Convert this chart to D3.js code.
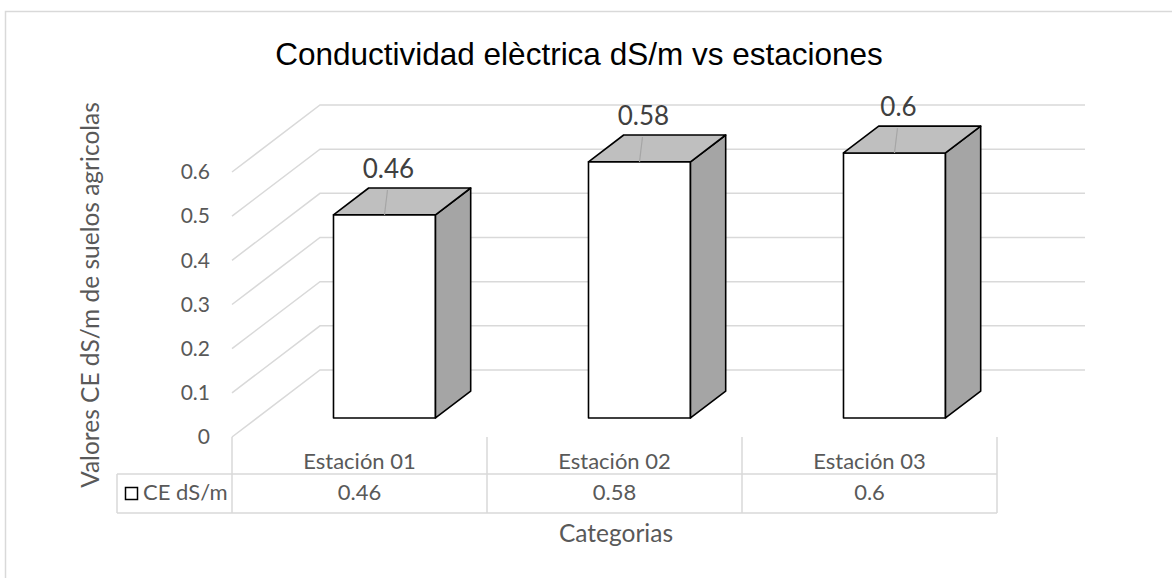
<!DOCTYPE html>
<html>
<head>
<meta charset="utf-8">
<script src="https://cdn.jsdelivr.net/npm/d3@7"></script>
<style>
  body { margin: 0; background: #fff; }
  svg { display: block; }
</style>
</head>
<body>
<svg></svg>
<script>
// chart data
let categories = ['Estación 01', 'Estación 02', 'Estación 03']
let values = [0.46, 0.58, 0.6]
let valueLabels = ['0.46', '0.58', '0.6']
let yTicks = [0, 0.1, 0.2, 0.3, 0.4, 0.5, 0.6]
let yTickLabels = ['0', '0.1', '0.2', '0.3', '0.4', '0.5', '0.6']
let seriesName = 'CE dS/m'

let width = 1172
let height = 578

// plot box (front plane) and depth vector for the fake 3d
let plotLeft = 232
let plotRight = 997
let plotBottom = 437
let plotTop = 172
let depthX = 88
let depthY = -67
let barZ0 = 0.284
let barZ1 = 0.684

let gridColor = '#d9d9d9'
let textColor = '#595959'
let bodyFont = 'Lato, "Open Sans", sans-serif'

let svg = d3.select('svg')
  .attr('width', width)
  .attr('height', height)

let xScale = d3.scaleBand()
  .domain(categories)
  .range([plotLeft, plotRight])

let yScale = d3.scaleLinear()
  .domain([0, 0.6])
  .range([plotBottom, plotTop])

// world (x, value, depth) -> screen
let proj = (x, v, z) => [x + z * depthX, yScale(v) + z * depthY]

let poly = (pts) => 'M' + pts.map(p => p.join(',')).join('L') + 'Z'

// outer chart border (only top and left are inside the picture)
svg.append('path')
  .attr('d', 'M5.5,' + height + 'V11.5H' + width)
  .attr('fill', 'none')
  .attr('stroke', gridColor)
  .attr('stroke-width', 1.5)

// title
svg.append('text')
  .attr('x', 579)
  .attr('y', 65)
  .attr('text-anchor', 'middle')
  .style('font-family', '"Liberation Sans", Arial, sans-serif')
  .style('font-size', '31.5px')
  .attr('fill', '#000')
  .text('Conductividad elèctrica dS/m vs estaciones')

// gridlines: side wall diagonals + back wall horizontals
let grid = svg.append('g')
  .attr('fill', 'none')
  .attr('stroke', gridColor)
  .attr('stroke-width', 1.5)

grid.selectAll('path')
  .data(yTicks)
  .enter()
  .append('path')
  .attr('d', (t) => {
    let a = proj(plotLeft, t, 0)
    let b = proj(plotLeft, t, 1)
    let c = proj(plotRight, t, 1)
    return 'M' + a.join(',') + 'L' + b.join(',') + 'L' + c.join(',')
  })

// y axis tick labels on the front edge
let yAxis = d3.axisLeft(yScale)
  .tickValues(yTicks)
  .tickFormat((d, i) => yTickLabels[i])
  .tickSize(0)
  .tickPadding(22)

let yAxisG = svg.append('g')
  .attr('transform', 'translate(' + plotLeft + ',0)')
  .call(yAxis)

yAxisG.select('.domain').remove()
yAxisG.selectAll('text')
  .attr('fill', textColor)
  .style('font-family', bodyFont)
  .style('font-size', '21px')

// bars
let bars = svg.selectAll('g.bar')
  .data(values)
  .enter()
  .append('g')
  .attr('class', 'bar')
  .attr('stroke', '#000')
  .attr('stroke-width', 1.6)
  .attr('stroke-linejoin', 'round')

let bw = xScale.bandwidth()
let x0 = (i) => xScale(categories[i]) + bw * 0.3
let x1 = (i) => xScale(categories[i]) + bw * 0.7

bars.append('path')
  .attr('fill', '#ffffff')
  .attr('d', (v, i) => poly([proj(x0(i), 0, barZ0), proj(x1(i), 0, barZ0), proj(x1(i), v, barZ0), proj(x0(i), v, barZ0)]))

bars.append('path')
  .attr('fill', '#a5a5a5')
  .attr('d', (v, i) => poly([proj(x1(i), 0, barZ0), proj(x1(i), 0, barZ1), proj(x1(i), v, barZ1), proj(x1(i), v, barZ0)]))

bars.append('path')
  .attr('fill', '#bfbfbf')
  .attr('d', (v, i) => poly([proj(x0(i), v, barZ0), proj(x1(i), v, barZ0), proj(x1(i), v, barZ1), proj(x0(i), v, barZ1)]))

// data labels with leader lines over the top face
bars.append('line')
  .attr('stroke', '#a6a6a6')
  .attr('stroke-width', 1.2)
  .attr('x1', (v, i) => (x0(i) + x1(i)) / 2 + barZ0 * depthX + 3)
  .attr('y1', (v, i) => proj(0, v, barZ1)[1] + 2)
  .attr('x2', (v, i) => (x0(i) + x1(i)) / 2 + barZ0 * depthX)
  .attr('y2', (v, i) => proj(0, v, barZ0)[1])

bars.append('text')
  .attr('stroke', 'none')
  .attr('fill', '#404040')
  .attr('text-anchor', 'middle')
  .style('font-family', bodyFont)
  .style('font-size', '26px')
  .attr('x', (v, i) => (x0(i) + x1(i)) / 2 + barZ0 * depthX + 4)
  .attr('y', (v, i) => proj(0, v, barZ0)[1] - 37)
  .text((v, i) => valueLabels[i])

// data table under the plot
let rowTop = 474
let rowBottom = 513
let tableLeft = 117

let table = svg.append('g')
  .attr('stroke', gridColor)
  .attr('stroke-width', 1.5)

table.append('line')
  .attr('x1', tableLeft).attr('x2', plotRight)
  .attr('y1', rowTop).attr('y2', rowTop)
table.append('line')
  .attr('x1', tableLeft).attr('x2', plotRight)
  .attr('y1', rowBottom).attr('y2', rowBottom)
table.append('line')
  .attr('x1', tableLeft).attr('x2', tableLeft)
  .attr('y1', rowTop).attr('y2', rowBottom)

table.selectAll('line.sep')
  .data(categories.map(c => xScale(c)).concat([plotRight]))
  .enter()
  .append('line')
  .attr('class', 'sep')
  .attr('x1', d => d).attr('x2', d => d)
  .attr('y1', plotBottom).attr('y2', rowBottom)

svg.selectAll('text.cat')
  .data(categories)
  .enter()
  .append('text')
  .attr('class', 'cat')
  .attr('x', c => xScale(c) + bw / 2)
  .attr('y', 469)
  .attr('text-anchor', 'middle')
  .attr('fill', textColor)
  .style('font-family', bodyFont)
  .style('font-size', '22px')
  .text(c => c)

svg.selectAll('text.val')
  .data(valueLabels)
  .enter()
  .append('text')
  .attr('class', 'val')
  .attr('x', (d, i) => xScale(categories[i]) + bw / 2)
  .attr('y', 500)
  .attr('text-anchor', 'middle')
  .attr('fill', textColor)
  .style('font-family', bodyFont)
  .style('font-size', '22px')
  .text(d => d)

// legend key in the table
svg.append('rect')
  .attr('x', 125.5)
  .attr('y', 487.5)
  .attr('width', 12)
  .attr('height', 12)
  .attr('fill', '#fff')
  .attr('stroke', '#000')
  .attr('stroke-width', 1.5)

svg.append('text')
  .attr('x', 143)
  .attr('y', 500)
  .attr('fill', textColor)
  .style('font-family', bodyFont)
  .style('font-size', '22px')
  .text(seriesName)

// axis titles
svg.append('text')
  .attr('transform', 'translate(99,295) rotate(-90)')
  .attr('text-anchor', 'middle')
  .attr('fill', textColor)
  .style('font-family', bodyFont)
  .style('font-size', '24.5px')
  .text('Valores CE dS/m de suelos agricolas')

svg.append('text')
  .attr('x', 616)
  .attr('y', 542)
  .attr('text-anchor', 'middle')
  .attr('fill', textColor)
  .style('font-family', bodyFont)
  .style('font-size', '24.5px')
  .text('Categorias')
</script>
</body>
</html>
